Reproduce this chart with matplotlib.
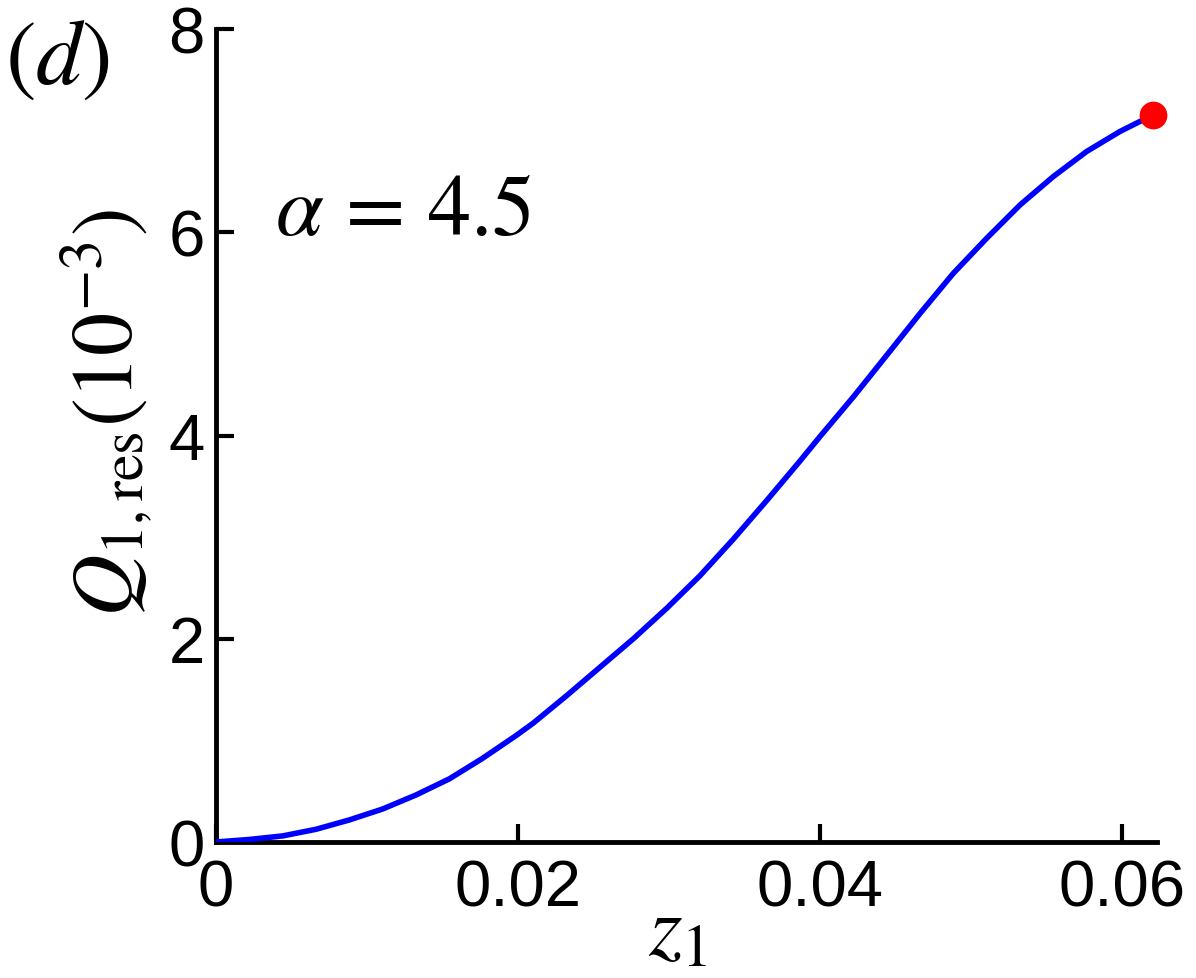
import matplotlib
matplotlib.use("Agg")
import matplotlib.pyplot as plt

# values (z1, Q_1,res in units of 1e-3)
z1 = [0.0, 0.00221, 0.00442, 0.00662, 0.00883, 0.01104, 0.01325, 0.01545,
      0.01766, 0.01987, 0.02101, 0.02322, 0.02543, 0.02764, 0.02985,
      0.03205, 0.03426, 0.03647, 0.03868, 0.04, 0.04221, 0.04442, 0.04662,
      0.04883, 0.05104, 0.05325, 0.05545, 0.05766, 0.05987, 0.06207]
q_res = [0.0, 0.025, 0.06, 0.125, 0.217, 0.325, 0.463, 0.621,
         0.824, 1.047, 1.17, 1.44, 1.72, 2.0, 2.3,
         2.62, 2.98, 3.36, 3.75, 3.99, 4.38, 4.79, 5.2,
         5.596, 5.941, 6.269, 6.548, 6.795, 6.992, 7.156]
end_point = (0.06207, 7.156)

x_ticks = [0, 0.02, 0.04, 0.06]
x_tick_labels = ["0", "0.02", "0.04", "0.06"]
y_ticks = [0, 2, 4, 6, 8]
y_tick_labels = ["0", "2", "4", "6", "8"]

W, H = 1196, 979
plt.rcParams["mathtext.fontset"] = "stix"
plt.rcParams["font.family"] = ["Liberation Sans", "DejaVu Sans"]

fig = plt.figure(figsize=(W / 100, H / 100), dpi=100)
ax = fig.add_axes([216 / W, 1 - 843 / H, (1157 - 216) / W, (843 - 30) / H])

ax.plot(z1, q_res, color="blue", lw=4, solid_joinstyle="round", zorder=3)
ax.plot([end_point[0]], [end_point[1]], "o", color="red", ms=20, mec="none",
        zorder=4, clip_on=False)

ax.set_xlim(0, 941 / 15100)
ax.set_ylim(0, 8)
ax.set_xticks(x_ticks)
ax.set_xticklabels(x_tick_labels)
ax.set_yticks(y_ticks)
ax.set_yticklabels(y_tick_labels)

for side in ("top", "right"):
    ax.spines[side].set_visible(False)
for side in ("left", "bottom"):
    ax.spines[side].set_linewidth(3.5)
    ax.spines[side].set_capstyle("projecting")

ax.tick_params(axis="both", direction="in", length=13, width=3, labelsize=47)
ax.tick_params(axis="x", pad=12)
ax.tick_params(axis="y", pad=8)

fig.text(5 / W, 1 - 84 / H, r"$(d)$", fontsize=66, ha="left", va="baseline")
fig.text(275 / W, 1 - 235 / H, r"$\alpha\,=\,4.5$", fontsize=62,
         ha="left", va="baseline")
fig.text(107 / W, 1 - 413 / H, r"$Q_{1,\mathrm{res}}(10^{-3})$", fontsize=62,
         rotation=90, ha="center", va="center")
fig.text(648 / W, 1 - 955 / H, r"$z_1$", fontsize=62, ha="left", va="baseline")

fig.savefig("out.png", dpi=100)
